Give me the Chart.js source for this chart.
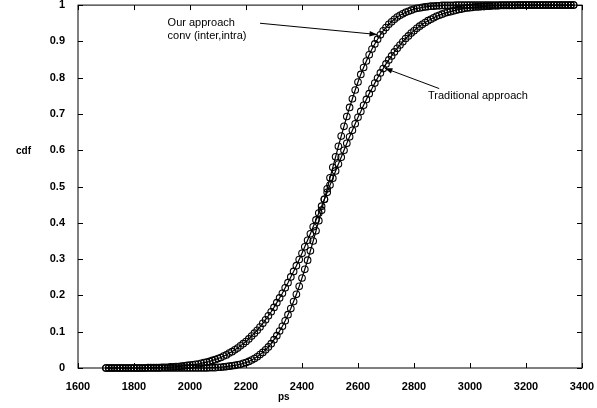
<!DOCTYPE html>
<html>
<head>
<meta charset="utf-8">
<script src="https://cdn.jsdelivr.net/npm/chart.js@4.4.1/dist/chart.umd.min.js"></script>
<style>
  html, body { margin: 0; padding: 0; background: #fff; }
  #wrap { width: 597px; height: 408px; position: relative; }
</style>
</head>
<body>
<div id="wrap"><canvas id="cdfChart"></canvas></div>
<script>
// sample positions (ps), shared by both curves
const xs = [
  1700,1710,1720,1730,1740,1750,1760,1770,1780,1790,
  1800,1810,1820,1830,1840,1850,1860,1870,1880,1890,
  1900,1910,1920,1930,1940,1950,1960,1970,1980,1990,
  2000,2010,2020,2030,2040,2050,2060,2070,2080,2090,
  2100,2110,2120,2130,2140,2150,2160,2170,2180,2190,
  2200,2210,2220,2230,2240,2250,2260,2270,2280,2290,
  2300,2310,2320,2330,2340,2350,2360,2370,2380,2390,
  2400,2410,2420,2430,2440,2450,2460,2470,2480,2490,
  2500,2510,2520,2530,2540,2550,2560,2570,2580,2590,
  2600,2610,2620,2630,2640,2650,2660,2670,2680,2690,
  2700,2710,2720,2730,2740,2750,2760,2770,2780,2790,
  2800,2810,2820,2830,2840,2850,2860,2870,2880,2890,
  2900,2910,2920,2930,2940,2950,2960,2970,2980,2990,
  3000,3010,3020,3030,3040,3050,3060,3070,3080,3090,
  3100,3110,3120,3130,3140,3150,3160,3170,3180,3190,
  3200,3210,3220,3230,3240,3250,3260,3270,3280,3290,
  3300,3310,3320,3330,3340,3350,3360,3370
];

// "Our approach conv (inter,intra)"
const ourCdf = [
  0,0,0,0,0,0,0,0,0,0,
  0,0,0,0,0,0,0,0,0,0,
  0,0,0,0,0,0,0,0,0,0,
  0,0,0,0,0,0,0,0.001,0.001,0.001,
  0.002,0.002,0.003,0.004,0.005,0.006,0.007,0.009,0.010,0.013,
  0.015,0.018,0.022,0.026,0.031,0.037,0.043,0.050,0.058,0.067,
  0.078,0.089,0.102,0.115,0.130,0.147,0.164,0.183,0.203,0.225,
  0.248,0.272,0.297,0.323,0.350,0.378,0.406,0.435,0.465,0.494,
  0.524,0.553,0.582,0.611,0.639,0.666,0.693,0.718,0.742,0.766,
  0.788,0.809,0.828,0.846,0.863,0.879,0.893,0.906,0.918,0.929,
  0.938,0.947,0.954,0.961,0.967,0.972,0.976,0.980,0.983,0.986,
  0.989,0.991,0.992,0.994,0.995,0.996,0.997,0.997,0.998,0.998,
  0.999,0.999,0.999,0.999,0.999,1,1,1,1,1,
  1,1,1,1,1,1,1,1,1,1,
  1,1,1,1,1,1,1,1,1,1,
  1,1,1,1,1,1,1,1,1,1,
  1,1,1,1,1,1,1,1
];

// "Traditional approach"
const tradCdf = [
  0,0,0,0,0,0,0,0,0,0,
  0,0,0,0,0,0.001,0.001,0.001,0.001,0.001,
  0.002,0.002,0.002,0.003,0.003,0.004,0.004,0.005,0.006,0.007,
  0.008,0.009,0.010,0.011,0.013,0.015,0.016,0.018,0.021,0.023,
  0.026,0.029,0.033,0.036,0.041,0.045,0.050,0.055,0.061,0.067,
  0.073,0.080,0.088,0.096,0.104,0.113,0.123,0.133,0.144,0.155,
  0.167,0.180,0.193,0.206,0.221,0.235,0.251,0.266,0.282,0.299,
  0.316,0.334,0.352,0.370,0.389,0.408,0.427,0.446,0.465,0.484,
  0.504,0.523,0.543,0.562,0.581,0.600,0.619,0.637,0.655,0.673,
  0.691,0.707,0.724,0.740,0.756,0.770,0.785,0.799,0.813,0.825,
  0.838,0.849,0.860,0.871,0.881,0.890,0.899,0.908,0.915,0.923,
  0.929,0.936,0.942,0.947,0.952,0.957,0.961,0.965,0.969,0.972,
  0.975,0.978,0.980,0.982,0.984,0.986,0.988,0.989,0.991,0.992,
  0.993,0.994,0.995,0.995,0.996,0.996,0.997,0.997,0.998,0.998,
  0.998,0.999,0.999,0.999,0.999,0.999,0.999,1,1,1,
  1,1,1,1,1,1,1,1,1,1,
  1,1,1,1,1,1,1,1
];

const xTicks = [1600, 1800, 2000, 2200, 2400, 2600, 2800, 3000, 3200, 3400];
const yTicks = [0, 0.1, 0.2, 0.3, 0.4, 0.5, 0.6, 0.7, 0.8, 0.9, 1];

// annotation text + arrow (positions in data units)
const notes = [
  { lines: ['Our approach', 'conv (inter,intra)'], tx: 1920, ty: 0.966, from: [2250, 0.95], to: [2668, 0.919] },
  { lines: ['Traditional approach'], tx: 2850, ty: 0.765, from: [2890, 0.770], to: [2696, 0.826] }
];

const FONT = '"Liberation Sans", Arial, sans-serif';

const boxPlugin = {
    id: 'boxPlugin',
    afterDatasetsDraw(chart) {
        const { ctx, chartArea: a, scales: { x, y } } = chart;
        ctx.save();
        ctx.strokeStyle = '#000';
        ctx.lineWidth = 1;
        ctx.strokeRect(a.left, a.top, a.right - a.left, a.bottom - a.top);

        // inward ticks on all four sides
        ctx.beginPath();
        xTicks.forEach(v => {
            const px = Math.round(x.getPixelForValue(v)) + 0.5;
            ctx.moveTo(px, a.bottom); ctx.lineTo(px, a.bottom - 5);
            ctx.moveTo(px, a.top);    ctx.lineTo(px, a.top + 5);
        });
        yTicks.forEach(v => {
            const py = Math.round(y.getPixelForValue(v)) + 0.5;
            ctx.moveTo(a.left, py);  ctx.lineTo(a.left + 5, py);
            ctx.moveTo(a.right, py); ctx.lineTo(a.right - 5, py);
        });
        ctx.stroke();

        // axis labels
        ctx.fillStyle = '#000';
        ctx.font = 'bold 10px ' + FONT;
        ctx.textBaseline = 'middle';
        ctx.textAlign = 'left';
        ctx.fillText('cdf', 16, 151);
        ctx.fillText('ps', 278, 397);

        // annotations
        ctx.font = '11px ' + FONT;
        ctx.textBaseline = 'top';
        notes.forEach(n => {
            const tx = x.getPixelForValue(n.tx), ty = y.getPixelForValue(n.ty);
            n.lines.forEach((s, i) => ctx.fillText(s, tx, ty + i * 13));

            const x0 = x.getPixelForValue(n.from[0]), y0 = y.getPixelForValue(n.from[1]);
            const x1 = x.getPixelForValue(n.to[0]),   y1 = y.getPixelForValue(n.to[1]);
            ctx.beginPath();
            ctx.moveTo(x0, y0); ctx.lineTo(x1, y1);
            ctx.stroke();
            const ang = Math.atan2(y1 - y0, x1 - x0);
            ctx.beginPath();
            ctx.moveTo(x1, y1);
            ctx.lineTo(x1 - 8 * Math.cos(ang - 0.35), y1 - 8 * Math.sin(ang - 0.35));
            ctx.lineTo(x1 - 8 * Math.cos(ang + 0.35), y1 - 8 * Math.sin(ang + 0.35));
            ctx.closePath();
            ctx.fill();
        });
        ctx.restore();
    }
};

function series(ys) {
    return xs.map((v, i) => ({ x: v, y: ys[i] }));
}

const markerStyle = {
    borderColor: '#000',
    borderWidth: 1.2,
    pointRadius: 3.3,
    pointBorderWidth: 1.1,
    pointBorderColor: '#000',
    pointBackgroundColor: 'rgba(255,255,255,0)',
    pointStyle: 'circle',
    tension: 0,
    clip: false
};

new Chart(document.getElementById('cdfChart'), {
    type: 'line',
    data: {
        datasets: [
            Object.assign({ label: 'Our approach conv (inter,intra)', data: series(ourCdf) }, markerStyle),
            Object.assign({ label: 'Traditional approach', data: series(tradCdf) }, markerStyle)
        ]
    },
    options: {
        responsive: true,
        maintainAspectRatio: false,
        animation: false,
        events: [],
        layout: { padding: { top: 4, right: 15, left: 0, bottom: 0 } },
        plugins: {
            legend: { display: false },
            tooltip: { enabled: false }
        },
        scales: {
            x: {
                type: 'linear',
                min: 1600,
                max: 3400,
                afterBuildTicks: s => { s.ticks = xTicks.map(v => ({ value: v })); },
                afterFit: s => { s.height = 40; s.paddingLeft = 0; s.paddingRight = 0; },
                grid: { display: false },
                border: { display: false },
                ticks: {
                    padding: 4,
                    maxRotation: 0,
                    color: '#000',
                    font: { family: FONT, size: 11, weight: 'bold' },
                    callback: v => String(v)
                }
            },
            y: {
                min: 0,
                max: 1,
                afterBuildTicks: s => { s.ticks = yTicks.map(v => ({ value: v })); },
                afterFit: s => { s.width = 78; s.paddingTop = 0; s.paddingBottom = 0; },
                grid: { display: false },
                border: { display: false },
                ticks: {
                    padding: 5,
                    color: '#000',
                    font: { family: FONT, size: 11, weight: 'bold' },
                    callback: v => (v === 0 || v === 1) ? String(v) : v.toFixed(1)
                }
            }
        }
    },
    plugins: [boxPlugin]
});
</script>
</body>
</html>
